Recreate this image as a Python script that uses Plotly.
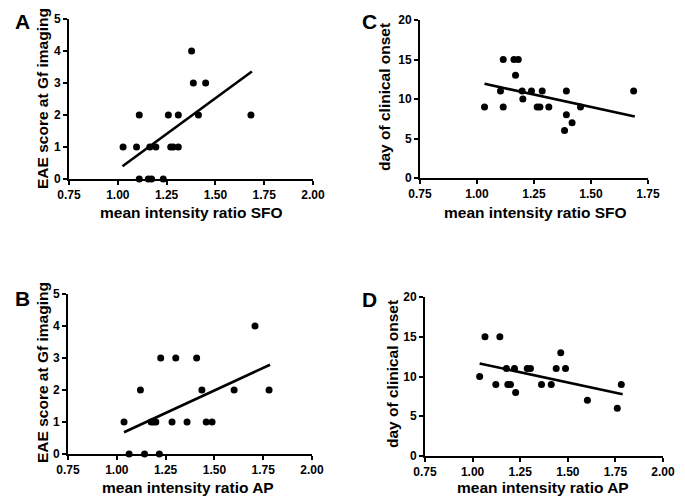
import plotly.graph_objects as go

# panel A: EAE score vs SFO ratio
a_x = [1.027, 1.096, 1.110, 1.110, 1.156, 1.164, 1.173, 1.195, 1.233, 1.259,
       1.271, 1.284, 1.310, 1.310, 1.378, 1.387, 1.413, 1.450, 1.682]
a_y = [1, 1, 2, 0, 0, 1, 0, 1, 0, 2, 1, 1, 1, 2, 4, 3, 2, 3, 2]
a_fit_x = [1.024, 1.687]
a_fit_y = [0.40, 3.36]

# panel C: day of onset vs SFO ratio
c_x = [1.033, 1.103, 1.115, 1.115, 1.162, 1.169, 1.181, 1.198, 1.201, 1.239,
       1.264, 1.276, 1.286, 1.315, 1.384, 1.392, 1.392, 1.417, 1.454, 1.687]
c_y = [9, 11, 9, 15, 15, 13, 15, 11, 10, 11, 9, 9, 11, 9, 6, 11, 8, 7, 9, 11]
c_fit_x = [1.033, 1.692]
c_fit_y = [11.92, 7.79]

# panel B: EAE score vs AP ratio
b_x = [1.037, 1.063, 1.121, 1.142, 1.176, 1.187, 1.200, 1.218, 1.225, 1.283,
       1.302, 1.360, 1.409, 1.436, 1.458, 1.488, 1.601, 1.708, 1.780]
b_y = [1, 0, 2, 0, 1, 1, 1, 0, 3, 1, 3, 1, 3, 2, 1, 1, 2, 4, 2]
b_fit_x = [1.037, 1.785]
b_fit_y = [0.68, 2.79]

# panel D: day of onset vs AP ratio
d_x = [1.037, 1.065, 1.122, 1.143, 1.178, 1.185, 1.199, 1.220, 1.226, 1.287,
       1.304, 1.362, 1.413, 1.439, 1.463, 1.488, 1.603, 1.760, 1.781]
d_y = [10, 15, 9, 15, 11, 9, 9, 11, 8, 11, 11, 9, 9, 11, 13, 11, 7, 6, 9]
d_fit_x = [1.037, 1.788]
d_fit_y = [11.63, 7.78]

W, H = 685, 504
FONT = "Liberation Sans"

panels = [
    # data, fit, x range, y range, y dtick, x px, y px, letter, letter pos, x title, y title, title pos
    (a_x, a_y, a_fit_x, a_fit_y, [0.75, 2.0], [0, 5], 1, (69, 313), (19, 179), "A", (13, 22),
     "mean intensity ratio SFO", "EAE score at Gf imaging", (191, 212), (43, 99)),
    (c_x, c_y, c_fit_x, c_fit_y, [0.75, 1.75], [0, 20], 5, (420, 648), (20, 178), "C", (360, 22),
     "mean intensity ratio SFO", "day of clinical onset", (535, 212), (385, 97)),
    (b_x, b_y, b_fit_x, b_fit_y, [0.75, 2.0], [0, 5], 1, (68, 312), (294, 454), "B", (13, 298),
     "mean intensity ratio AP", "EAE score at Gf imaging", (188, 487), (42, 373)),
    (d_x, d_y, d_fit_x, d_fit_y, [0.75, 2.0], [0, 20], 5, (425, 663), (297, 456), "D", (360, 299),
     "mean intensity ratio AP", "day of clinical onset", (543, 487), (392, 374)),
]

fig = go.Figure()
annotations = []
for i, (px_, py_, fx, fy, xr, yr, ydt, xpx, ypx, letter, lpos, xt, yt, xtpos, ytpos) in enumerate(panels):
    n = "" if i == 0 else str(i + 1)
    fig.add_trace(go.Scatter(x=px_, y=py_, mode="markers", cliponaxis=False,
                             marker=dict(color="black", size=7),
                             xaxis="x" + n, yaxis="y" + n, showlegend=False))
    fig.add_trace(go.Scatter(x=fx, y=fy, mode="lines", cliponaxis=False,
                             line=dict(color="black", width=2.6),
                             xaxis="x" + n, yaxis="y" + n, showlegend=False))
    axis_common = dict(showline=True, linecolor="black", linewidth=2, showgrid=False,
                       zeroline=False, ticks="outside", ticklen=4, tickwidth=2,
                       tickcolor="black", automargin=False,
                       tickfont=dict(family=FONT, size=12, color="black", weight="bold"))
    fig.update_layout(**{
        "xaxis" + n: dict(axis_common, domain=[xpx[0] / W, xpx[1] / W], range=xr,
                          dtick=0.25, tick0=0.75, tickformat=".2f", anchor="y" + n),
        "yaxis" + n: dict(axis_common, domain=[1 - ypx[1] / H, 1 - ypx[0] / H], range=yr,
                          dtick=ydt, anchor="x" + n),
    })
    annotations.append(dict(text=letter, x=lpos[0] / W, y=1 - lpos[1] / H, xref="paper",
                            yref="paper", xanchor="left", yanchor="middle", showarrow=False,
                            font=dict(family=FONT, size=21, color="black", weight="bold")))
    annotations.append(dict(text=xt, x=xtpos[0] / W, y=1 - xtpos[1] / H, xref="paper",
                            yref="paper", xanchor="center", yanchor="middle", showarrow=False,
                            font=dict(family=FONT, size=15.5, color="black", weight="bold")))
    annotations.append(dict(text=yt, x=ytpos[0] / W, y=1 - ytpos[1] / H, xref="paper",
                            yref="paper", xanchor="center", yanchor="middle", showarrow=False,
                            textangle=-90,
                            font=dict(family=FONT, size=15.5, color="black", weight="bold")))

fig.update_layout(width=W, height=H,
                  margin=dict(l=0, r=0, t=0, b=0, pad=0, autoexpand=False),
                  paper_bgcolor="white", plot_bgcolor="white", annotations=annotations)

# drop the default 8px page margin so the figure sits at the window corner
fig.write_html("out.html", config={"displayModeBar": False},
               post_script="document.body.style.margin='0';")
